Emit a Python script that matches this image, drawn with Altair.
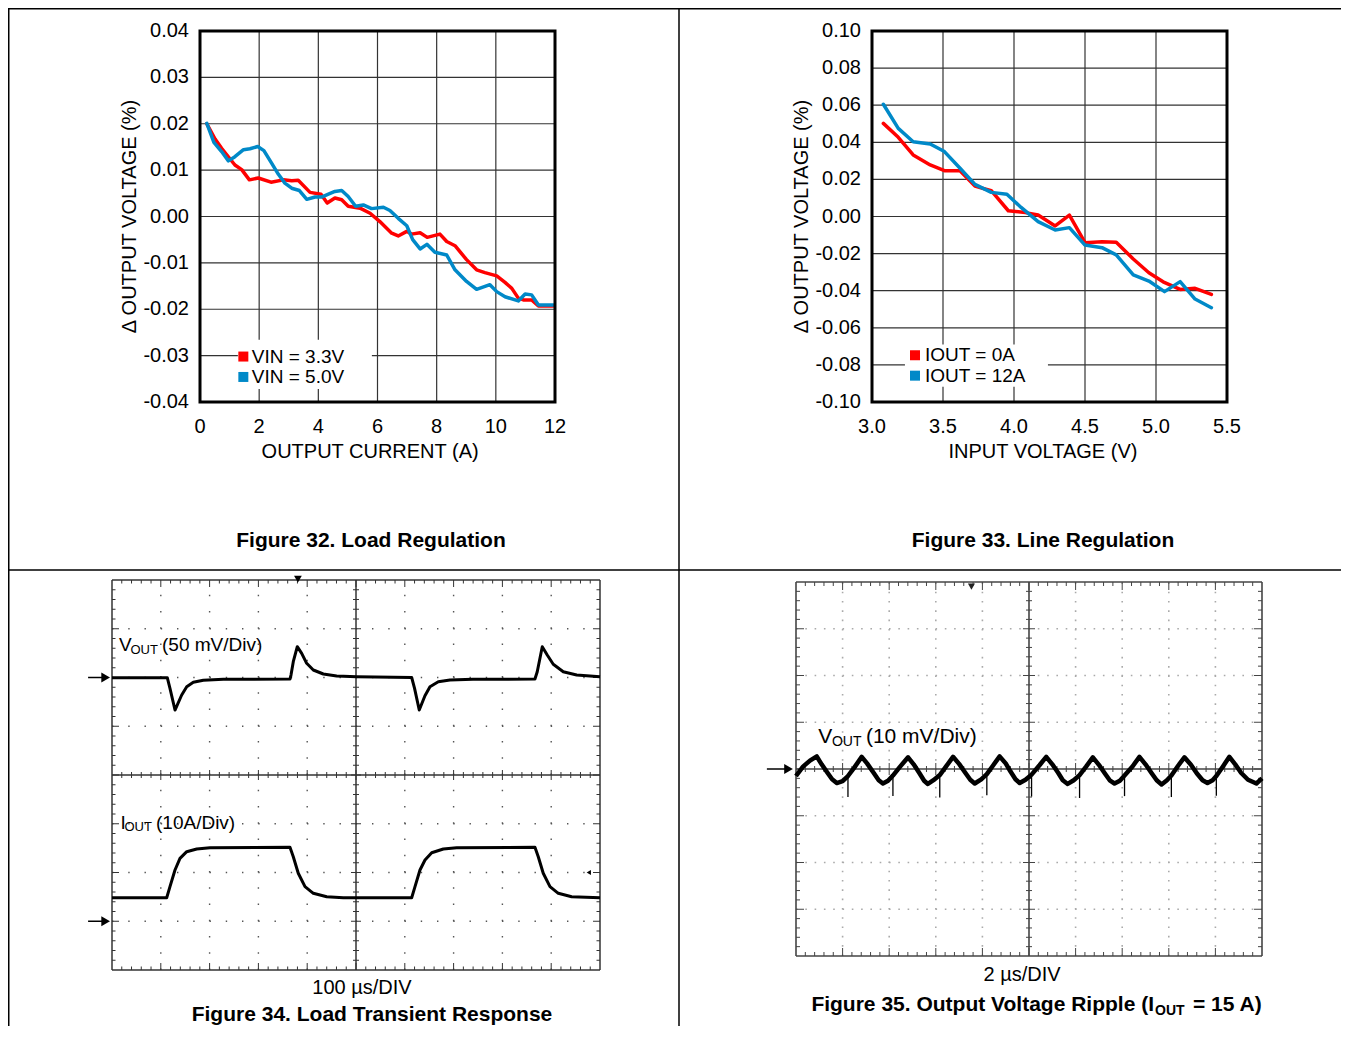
import altair as alt
import pandas as pd

FONT = "Liberation Sans"
W, H = 1333, 1018

# ---------------- Figure 32: load regulation ----------------
lr_names = ["VIN = 3.3V", "VIN = 5.0V"]
lr_i_33 = [0.23, 0.51, 0.73, 1.18, 1.41, 1.67, 1.97, 2.40, 2.82, 3.10,
           3.32, 3.72, 4.09, 4.30, 4.56, 4.79, 5.01, 5.41, 5.75, 6.08,
           6.48, 6.70, 6.99, 7.15, 7.44, 7.68, 8.11, 8.34, 8.62, 9.01,
           9.35, 9.63, 10.03, 10.31, 10.54, 10.76, 10.93, 11.21, 11.44, 11.95]
lr_dv_33 = [0.0200, 0.0167, 0.0147, 0.0111, 0.0101, 0.0079, 0.0083, 0.0074, 0.0079, 0.0077,
            0.0078, 0.0052, 0.0048, 0.0029, 0.0040, 0.0036, 0.0022, 0.0018, 0.0007, -0.0011,
            -0.0036, -0.0042, -0.0032, -0.0038, -0.0035, -0.0045, -0.0038, -0.0054, -0.0063, -0.0093,
            -0.0115, -0.0121, -0.0128, -0.0142, -0.0155, -0.0176, -0.0180, -0.0180, -0.0193, -0.0193]
lr_i_50 = [0.23, 0.47, 0.73, 0.96, 1.18, 1.47, 1.69, 1.95, 2.16, 2.42,
           2.65, 2.87, 3.10, 3.36, 3.61, 3.89, 4.11, 4.34, 4.56, 4.79,
           5.01, 5.26, 5.52, 5.80, 6.20, 6.42, 6.70, 6.99, 7.19, 7.44,
           7.67, 7.94, 8.34, 8.62, 9.01, 9.35, 9.80, 10.03, 10.31, 10.76,
           10.99, 11.21, 11.44, 11.95]
lr_dv_50 = [0.0201, 0.0160, 0.0140, 0.0120, 0.0129, 0.0144, 0.0146, 0.0151, 0.0142, 0.0115,
            0.0091, 0.0072, 0.0061, 0.0056, 0.0037, 0.0042, 0.0042, 0.0048, 0.0054, 0.0056,
            0.0043, 0.0022, 0.0025, 0.0017, 0.0020, 0.0013, -0.0004, -0.0020, -0.0050, -0.0070,
            -0.0060, -0.0077, -0.0083, -0.0115, -0.0140, -0.0157, -0.0147, -0.0162, -0.0173, -0.0182,
            -0.0167, -0.0169, -0.0191, -0.0191]
lr_xticks = [0, 2, 4, 6, 8, 10, 12]
lr_yticks = [-0.04, -0.03, -0.02, -0.01, 0.0, 0.01, 0.02, 0.03, 0.04]
lr_xlabels = [str(v) for v in lr_xticks]
lr_ylabels = [f"{v:.2f}" for v in lr_yticks]

# ---------------- Figure 33: line regulation ----------------
ln_names = ["IOUT = 0A", "IOUT = 12A"]
ln_v_0 = [3.08, 3.185, 3.29, 3.41, 3.51, 3.62, 3.725, 3.84, 3.96, 4.08, 4.17,
          4.29, 4.39, 4.50, 4.62, 4.72, 4.84, 4.95, 5.05, 5.17, 5.275, 5.39]
ln_dv_0 = [0.0502, 0.0427, 0.0332, 0.0278, 0.0247, 0.0247, 0.0164, 0.0139, 0.0031, 0.0021, 0.0008,
           -0.0051, 0.0008, -0.0141, -0.0136, -0.0139, -0.0229, -0.0303, -0.0352, -0.0393, -0.0387, -0.0420]
ln_v_12 = [3.08, 3.185, 3.29, 3.41, 3.51, 3.62, 3.725, 3.84, 3.95, 4.05, 4.17,
           4.29, 4.39, 4.50, 4.62, 4.72, 4.84, 4.95, 5.06, 5.17, 5.275, 5.39]
ln_dv_12 = [0.0605, 0.0475, 0.0403, 0.0391, 0.0350, 0.0260, 0.0173, 0.0130, 0.0120, 0.0049, -0.0028,
            -0.0073, -0.0060, -0.0154, -0.0168, -0.0207, -0.0315, -0.0348, -0.0405, -0.0351, -0.0445, -0.0492]
ln_xticks = [3.0, 3.5, 4.0, 4.5, 5.0, 5.5]
ln_yticks = [-0.10, -0.08, -0.06, -0.04, -0.02, 0.0, 0.02, 0.04, 0.06, 0.08, 0.10]
ln_xlabels = [f"{v:.1f}" for v in ln_xticks]
ln_ylabels = [f"{v:.2f}" for v in ln_yticks]

# ---------------- Figure 34: load transient (time in us, screen divisions) ----------------
tr_vout_t = [0, 113.3, 118.8, 129.1, 142.8, 153.1, 166.6, 187.1, 228.1, 364.7,
             366.8, 371.5, 379.7, 388.7, 398.9, 412.5, 433.0, 460.4, 501.4, 614.1,
             620.0, 629.6, 641.3, 651.6, 668.6, 692.6, 739.7, 866.7, 871.4, 881.7,
             891.9, 904.2, 924.7, 952.2, 1000]
tr_vout_div = [1.996, 1.996, 1.778, 1.333, 1.641, 1.811, 1.902, 1.943, 1.963, 1.969,
               2.051, 2.324, 2.632, 2.496, 2.291, 2.154, 2.072, 2.031, 2.017, 2.000,
               1.778, 1.333, 1.627, 1.811, 1.914, 1.949, 1.963, 1.969, 2.119, 2.632,
               2.462, 2.271, 2.119, 2.051, 2.017]
tr_iout_t = [0, 112.1, 118.8, 129.1, 139.3, 153.1, 173.6, 200.8, 364.7, 371.5,
             381.7, 395.5, 412.5, 440.0, 474.0, 614.1, 620.9, 631.1, 641.4, 655.1,
             678.9, 706.3, 866.7, 873.5, 883.7, 897.5, 914.5, 941.9, 1000]
tr_iout_div = [-2.517, -2.517, -2.291, -1.949, -1.709, -1.573, -1.518, -1.491, -1.483, -1.676,
               -2.016, -2.291, -2.427, -2.496, -2.517, -2.517, -2.291, -1.949, -1.744, -1.594,
               -1.518, -1.491, -1.483, -1.676, -2.016, -2.291, -2.427, -2.496, -2.517]

# ---------------- Figure 35: output ripple (time in us, mV) ----------------
rp_t = [0.00, 0.30, 0.60, 0.89, 1.10, 1.35, 1.55, 1.75, 2.00, 2.23,
        2.50, 2.82, 3.05, 3.30, 3.55, 3.73, 3.95, 4.16, 4.45, 4.81,
        5.05, 5.30, 5.50, 5.66, 5.90, 6.17, 6.45, 6.74, 7.00, 7.25,
        7.48, 7.67, 7.95, 8.19, 8.45, 8.74, 9.00, 9.20, 9.42, 9.60,
        9.85, 10.11, 10.45, 10.74, 11.00, 11.25, 11.45, 11.66, 11.92, 12.17,
        12.45, 12.74, 13.00, 13.25, 13.48, 13.67, 13.90, 14.10, 14.45, 14.74,
        15.00, 15.25, 15.48, 15.69, 15.92, 16.11, 16.40, 16.67, 16.95, 17.20,
        17.45, 17.66, 17.88, 18.04, 18.33, 18.60, 18.85, 19.10, 19.40, 19.76, 20.00]
rp_mv = [-1.5, 0.5, 1.8, 2.7, 1.0, -0.8, -2.2, -3.0, -2.6, -1.5,
         0.3, 2.6, 1.2, -0.6, -2.4, -3.1, -2.5, -1.4, 0.4, 2.5,
         1.0, -0.9, -2.5, -3.2, -2.4, -1.3, 0.6, 2.6, 1.1, -0.7,
         -2.3, -3.1, -2.2, -1.1, 0.7, 2.7, 1.2, -0.5, -2.2, -3.0,
         -2.3, -1.2, 0.8, 2.6, 1.0, -0.8, -2.4, -3.2, -2.4, -1.3,
         0.5, 2.5, 0.9, -0.9, -2.5, -3.1, -2.5, -1.4, 0.6, 2.6,
         1.0, -0.8, -2.4, -3.3, -2.4, -1.4, 0.7, 2.5, 0.9, -0.9,
         -2.4, -3.0, -2.4, -1.5, 0.6, 2.6, 1.0, -0.8, -2.3, -3.1, -2.0]
rp_spike_t = [2.23, 4.16, 6.17, 8.19, 10.11, 12.17, 14.10, 16.11, 18.04]
rp_spike_top = [-1.5, -1.4, -1.3, -1.1, -1.2, -1.3, -1.4, -1.4, -1.5]
rp_spike_bot = [-6.0, -5.8, -6.1, -5.6, -5.9, -6.2, -5.8, -6.0, -5.7]

COLORS = ["#ff0000", "#0089c8"]


def reg_panel(xa, ya, xb, yb, names, xticks, yticks, xlabels, ylabels, xpx, xtitle,
              xtitle_at, ytitle_at, box, sq_x, sq_y, txt_x):
    xs = alt.Scale(domain=[xticks[0], xticks[-1]], range=xpx, nice=False, zero=False)
    ys = alt.Scale(domain=[yticks[0], yticks[-1]], range=[394, 23], nice=False, zero=False)

    def X(f):
        return alt.X(f, type="quantitative", scale=xs, axis=None)

    def Y(f):
        return alt.Y(f, type="quantitative", scale=ys, axis=None)

    gv = pd.DataFrame({"x": xticks[1:-1], "y0": yticks[0], "y1": yticks[-1]})
    gh = pd.DataFrame({"y": yticks[1:-1], "x0": xticks[0], "x1": xticks[-1]})
    grid_v = alt.Chart(gv).mark_rule(color="#333", strokeWidth=1.2).encode(
        x=X("x"), y=Y("y0"), y2="y1")
    grid_h = alt.Chart(gh).mark_rule(color="#333", strokeWidth=1.2).encode(
        y=Y("y"), x=X("x0"), x2="x1")
    bx = pd.DataFrame({"x0": [box[0]], "x1": [box[1]], "y0": [box[2]], "y1": [box[3]]})
    legend_bg = alt.Chart(bx).mark_rect(color="white").encode(
        x=X("x0"), x2="x1", y=Y("y0"), y2="y1")
    line_a = alt.Chart(pd.DataFrame({"x": xa, "y": ya})).mark_line(
        color=COLORS[0], strokeWidth=3.5, strokeJoin="round", strokeCap="round").encode(
        x=X("x"), y=Y("y"))
    line_b = alt.Chart(pd.DataFrame({"x": xb, "y": yb})).mark_line(
        color=COLORS[1], strokeWidth=3.5, strokeJoin="round", strokeCap="round").encode(
        x=X("x"), y=Y("y"))
    fr = pd.DataFrame({"x0": [xticks[0]], "x1": [xticks[-1]], "y0": [yticks[0]], "y1": [yticks[-1]]})
    frame = alt.Chart(fr).mark_rect(fillOpacity=0, stroke="black", strokeWidth=3).encode(
        x=X("x0"), x2="x1", y=Y("y0"), y2="y1")
    lg = pd.DataFrame({"x": [sq_x, sq_x], "tx": [txt_x, txt_x], "y": sq_y, "c": COLORS, "n": names})
    squares = alt.Chart(lg).mark_square(size=100, opacity=1, filled=True).encode(
        x=X("x"), y=Y("y"), color=alt.Color("c:N", scale=None))
    texts = alt.Chart(lg).mark_text(align="left", baseline="middle", font=FONT, fontSize=19,
                                    color="black").encode(x=X("tx"), y=Y("y"), text="n:N")
    # tick labels and axis titles
    xl = pd.DataFrame({"v": xticks, "lab": xlabels, "y": yticks[0]})
    yl = pd.DataFrame({"v": yticks, "lab": ylabels, "x": xticks[0]})
    xlab = alt.Chart(xl).mark_text(align="center", baseline="alphabetic", dy=31, font=FONT,
                                   fontSize=20, color="black").encode(x=X("v"), y=Y("y"), text="lab:N")
    ylab = alt.Chart(yl).mark_text(align="right", baseline="middle", dx=-11, font=FONT,
                                   fontSize=20, color="black").encode(x=X("x"), y=Y("v"), text="lab:N")
    tt = pd.DataFrame({"x": [xtitle_at], "y": [yticks[0]], "s": [xtitle]})
    xt = alt.Chart(tt).mark_text(align="center", baseline="alphabetic", dy=56, font=FONT,
                                 fontSize=20, color="black").encode(x=X("x"), y=Y("y"), text="s:N")
    ty = pd.DataFrame({"x": [ytitle_at], "y": [0.0], "s": ["\u0394 OUTPUT VOLTAGE (%)"]})
    yt = alt.Chart(ty).mark_text(align="center", baseline="alphabetic", angle=270, font=FONT,
                                 fontSize=20, color="black").encode(x=X("x"), y=Y("y"), text="s:N")
    return alt.layer(grid_v, grid_h, legend_bg, line_a, line_b, frame, squares, texts,
                     xlab, ylab, xt, yt)


def scope_structure(x0, x1, y0, y1, nx, ny, xpx, ypx, kx, ky, frame_color, frame_w, tick_w,
                    dot_color, dot_w, dash, e_min, e_maj, c_min, c_maj):
    sx = alt.Scale(domain=[x0, x1], range=xpx, nice=False, zero=False)
    sy = alt.Scale(domain=[y0, y1], range=ypx, nice=False, zero=False)
    xd = (x1 - x0) / nx
    yd = (y1 - y0) / ny
    xc = (x0 + x1) / 2
    yc = (y0 + y1) / 2
    solid = [(x0, y0, x1, y0), (x0, y1, x1, y1), (x0, y0, x0, y1), (x1, y0, x1, y1),
             (xc, y0, xc, y1), (x0, yc, x1, yc)]
    ticks = []
    for k in range(1, 5 * nx):
        xm = x0 + k * xd / 5
        L = (e_maj if k % 5 == 0 else e_min) / ky
        C = (c_maj if k % 5 == 0 else c_min) / ky
        ticks += [(xm, y1, xm, y1 - L), (xm, y0, xm, y0 + L), (xm, yc - C, xm, yc + C)]
    for k in range(1, 5 * ny):
        ym = y0 + k * yd / 5
        L = (e_maj if k % 5 == 0 else e_min) / kx
        C = (c_maj if k % 5 == 0 else c_min) / kx
        ticks += [(x0, ym, x0 + L, ym), (x1, ym, x1 - L, ym), (xc - C, ym, xc + C, ym)]
    cols = ["x", "y", "x2", "y2"]
    dv = pd.DataFrame({"x": [x0 + k * xd for k in range(1, nx) if 2 * k != nx], "y0": y0, "y1": y1})
    dh = pd.DataFrame({"y": [y0 + k * yd for k in range(1, ny) if 2 * k != ny], "x0": x0, "x1": x1})

    def X(f):
        return alt.X(f, type="quantitative", scale=sx, axis=None)

    def Y(f):
        return alt.Y(f, type="quantitative", scale=sy, axis=None)

    layers = [
        alt.Chart(dv).mark_rule(color=dot_color, strokeWidth=dot_w, strokeDash=dash).encode(
            x=X("x"), y=Y("y0"), y2="y1"),
        alt.Chart(dh).mark_rule(color=dot_color, strokeWidth=dot_w, strokeDash=dash).encode(
            y=Y("y"), x=X("x0"), x2="x1"),
        alt.Chart(pd.DataFrame(solid, columns=cols)).mark_rule(color=frame_color, strokeWidth=frame_w).encode(
            x=X("x"), y=Y("y"), x2="x2", y2="y2"),
        alt.Chart(pd.DataFrame(ticks, columns=cols)).mark_rule(color=frame_color, strokeWidth=tick_w).encode(
            x=X("x"), y=Y("y"), x2="x2", y2="y2"),
    ]
    return sx, sy, layers


def txt(sx, sy, s, x, y, size, align="left", baseline="alphabetic", weight="normal"):
    return alt.Chart(pd.DataFrame({"x": [x], "y": [y], "s": [s]})).mark_text(
        font=FONT, fontSize=size, align=align, baseline=baseline, fontWeight=weight, color="black").encode(
        x=alt.X("x:Q", scale=sx, axis=None), y=alt.Y("y:Q", scale=sy, axis=None), text="s:N")


def marker(sx, sy, shape, x, y, size, color="black"):
    return alt.Chart(pd.DataFrame({"x": [x], "y": [y]})).mark_point(
        shape=shape, filled=True, size=size, opacity=1, color=color).encode(
        x=alt.X("x:Q", scale=sx, axis=None), y=alt.Y("y:Q", scale=sy, axis=None))


def shaft(sx, sy, xa, xb, y):
    return alt.Chart(pd.DataFrame({"x": [xa], "x2": [xb], "y": [y]})).mark_rule(
        color="black", strokeWidth=1.5).encode(
        x=alt.X("x:Q", scale=sx, axis=None), x2="x2:Q", y=alt.Y("y:Q", scale=sy, axis=None))


# ---------- Panel 1 and 2 ----------
p1 = reg_panel(lr_i_33, lr_dv_33, lr_i_50, lr_dv_50, lr_names, lr_xticks, lr_yticks,
               lr_xlabels, lr_ylabels, [192, 547], "OUTPUT CURRENT (A)", 5.75, -2.164,
               [1.28, 5.81, -0.0372, -0.0266], 1.465, [-0.0302, -0.0346], 1.75)
p2 = reg_panel(ln_v_0, ln_dv_0, ln_v_12, ln_dv_12, ln_names, ln_xticks, ln_yticks,
               ln_xlabels, ln_ylabels, [864, 1219], "INPUT VOLTAGE (V)", 4.204, 2.549,
               [3.232, 4.239, -0.0918, -0.0690], 3.303, [-0.0748, -0.0858], 3.373)

# ---------- Panel 3: load transient ----------
sx3, sy3, l3 = scope_structure(0, 1000, -4, 4, 10, 8, [104, 592], [962, 572], 0.488, 48.75,
                               "#333", 1.5, 1.0, "#555", 1.4, [1.4, 14.85], 3.5, 7, 3, 5)
vout3 = alt.Chart(pd.DataFrame({"t": tr_vout_t, "v": tr_vout_div})).mark_line(
    color="black", strokeWidth=3, strokeJoin="round").encode(
    x=alt.X("t:Q", scale=sx3, axis=None), y=alt.Y("v:Q", scale=sy3, axis=None))
iout3 = alt.Chart(pd.DataFrame({"t": tr_iout_t, "v": tr_iout_div})).mark_line(
    color="black", strokeWidth=3, strokeJoin="round").encode(
    x=alt.X("t:Q", scale=sx3, axis=None), y=alt.Y("v:Q", scale=sy3, axis=None))
p3 = alt.layer(
    *l3, vout3, iout3,
    txt(sx3, sy3, "V", 14.3, 2.544, 19),
    txt(sx3, sy3, "OUT", 37.9, 2.49, 13),
    txt(sx3, sy3, "(50 mV/Div)", 102.5, 2.544, 19),
    txt(sx3, sy3, "I", 17.4, -1.108, 19),
    txt(sx3, sy3, "OUT", 25.6, -1.15, 13),
    txt(sx3, sy3, "(10A/Div)", 90.2, -1.108, 19),
    shaft(sx3, sy3, -49, -14, 2.0),
    shaft(sx3, sy3, -49, -14, -3.0),
    marker(sx3, sy3, "triangle-right", -13, 2.0, 100),
    marker(sx3, sy3, "triangle-right", -13, -3.0, 100),
    marker(sx3, sy3, "triangle-down", 381, 4.02, 60),
    marker(sx3, sy3, "triangle-left", 977, -2.0, 25),
)

# ---------- Panel 4: ripple ----------
sx4, sy4, l4 = scope_structure(0, 20, -40, 40, 10, 8, [788, 1254], [948, 574], 23.3, 4.675,
                               "#444", 1.6, 1.0, "#aaa", 1.6, [1.6, 7.7], 4, 8, 3, 6)
rip = alt.Chart(pd.DataFrame({"t": rp_t, "v": rp_mv})).mark_line(
    color="black", strokeWidth=4.5, strokeJoin="round").encode(
    x=alt.X("t:Q", scale=sx4, axis=None), y=alt.Y("v:Q", scale=sy4, axis=None))
spikes = alt.Chart(pd.DataFrame({"t": rp_spike_t, "a": rp_spike_top, "b": rp_spike_bot})).mark_rule(
    color="black", strokeWidth=1.3).encode(
    x=alt.X("t:Q", scale=sx4, axis=None), y=alt.Y("a:Q", scale=sy4, axis=None), y2="b:Q")
p4 = alt.layer(
    *l4, rip, spikes,
    txt(sx4, sy4, "V", 0.956, 5.64, 21),
    txt(sx4, sy4, "OUT", 1.543, 4.82, 14),
    txt(sx4, sy4, "(10 mV/Div)", 3.0, 5.64, 21),
    shaft(sx4, sy4, -1.25, -0.45, 0.0),
    marker(sx4, sy4, "triangle-right", -0.32, 0.0, 100),
    marker(sx4, sy4, "triangle-down", 7.53, 39.0, 50, "#222"),
)


# ---------- captions and table lines ----------
def cap(s, x, y, size=20, weight="normal", align="center", baseline="middle"):
    return alt.Chart(pd.DataFrame({"s": [s]})).mark_text(
        font=FONT, fontSize=size, fontWeight=weight, align=align, baseline=baseline,
        color="black").encode(x=alt.value(x), y=alt.value(y), text="s:N")


def hline(y, x0, x1):
    return alt.Chart(pd.DataFrame({"a": [0]})).mark_rule(color="black", strokeWidth=1.5).encode(
        y=alt.value(y), x=alt.value(x0), x2=alt.value(x1))


def vline(x, y0, y1):
    return alt.Chart(pd.DataFrame({"a": [0]})).mark_rule(color="black", strokeWidth=1.5).encode(
        x=alt.value(x), y=alt.value(y0), y2=alt.value(y1))


captions = [
    cap("Figure 32. Load Regulation", 363, 533, 21, "bold"),
    cap("Figure 33. Line Regulation", 1035, 533, 21, "bold"),
    cap("100 \u00b5s/DIV", 354, 980, 20),
    cap("Figure 34. Load Transient Response", 364, 1007, 21, "bold"),
    cap("2 \u00b5s/DIV", 1014, 967, 20),
    cap("Figure 35. Output Voltage Ripple (I", 1146, 1002.5, 21, "bold", "right", "alphabetic"),
    cap("OUT", 1147, 1007, 14, "bold", "left", "alphabetic"),
    cap("= 15 A)", 1185, 1002.5, 21, "bold", "left", "alphabetic"),
]
borders = [hline(0.75, 0, W), vline(0.75, 0, H), vline(671, 0, H), hline(562, 0, W)]

chart = alt.layer(p1, p2, p3, p4, *captions, *borders).resolve_scale(
    x="independent", y="independent").properties(
    width=W, height=H, padding=0, autosize=alt.AutoSizeParams(type="none")
).configure(font=FONT).configure_view(stroke=None)

chart.save("out.html", embed_options={"renderer": "svg", "actions": False})
